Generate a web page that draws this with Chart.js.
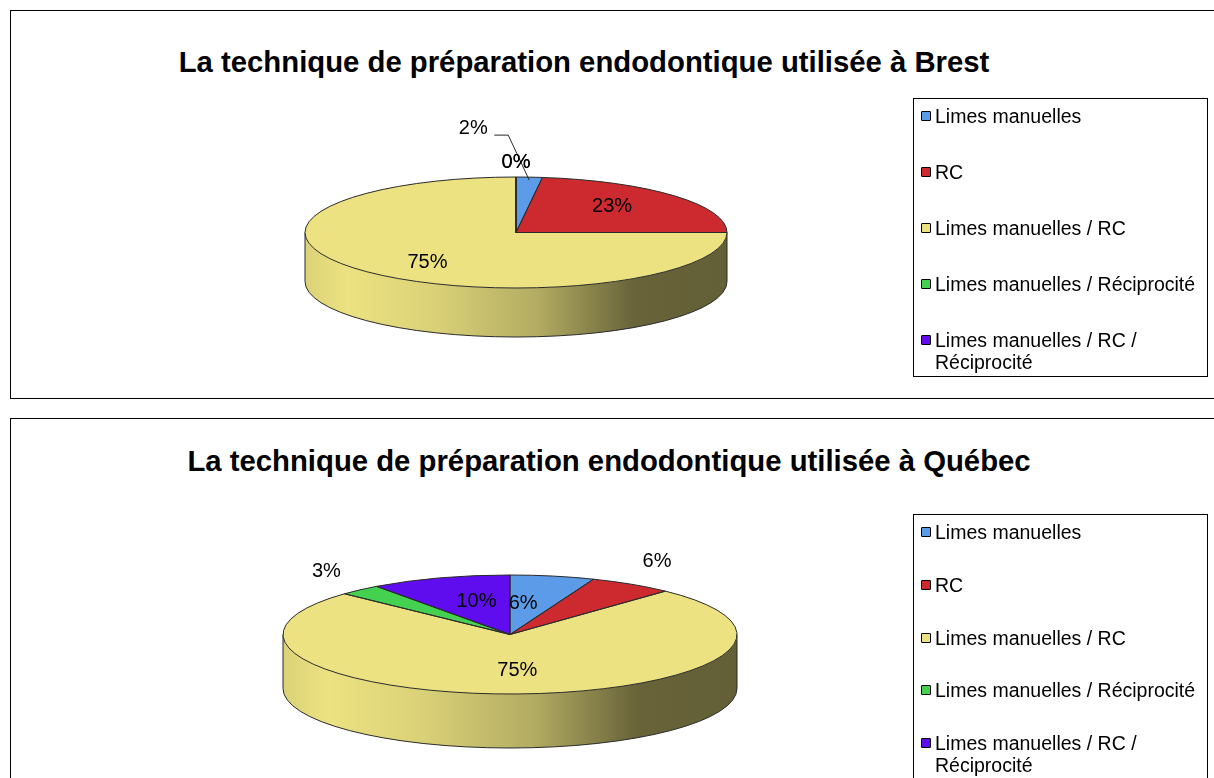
<!DOCTYPE html>
<html lang="fr">
<head>
<meta charset="utf-8">
<title>La technique de préparation endodontique</title>
<script src="https://cdn.jsdelivr.net/npm/chart.js@4.4.1/dist/chart.umd.min.js"></script>
<style>
    html, body { margin: 0; padding: 0; background: #fff; width: 1214px; height: 778px; overflow: hidden; font-family: Arial, "Liberation Sans", sans-serif; }
    .panel { position: absolute; left: 10px; width: 1220px; border: 1px solid #000; background: #fff; }
    .title { position: absolute; font-weight: bold; font-size: 29.3px; line-height: 34px; white-space: nowrap; transform: translateX(-50%); color: #000; }
    .plot { position: absolute; left: 0; top: 0; width: 1210px; }
    .legend { position: absolute; left: 902px; width: 295px; box-sizing: border-box; border: 1px solid #000; padding: 6px 6px 0 7px; font-size: 19.5px; line-height: 22px; color: #000; }
    .item { display: flex; align-items: flex-start; }
    .swatch { flex: none; width: 8px; height: 8px; border: 1.5px solid #000; border-radius: 1px; margin: 6px 4px 0 0; }
</style>
</head>
<body>

<div class="panel" id="panelBrest" style="top:10px; height:387px;">
    <div class="title" style="left:573px; top:34px;">La technique de préparation endodontique utilisée à Brest</div>
    <div class="plot" style="height:387px;"><canvas id="brestChart"></canvas></div>
    <div class="legend" id="legendBrest" style="top:87px; height:279px;"></div>
</div>

<div class="panel" id="panelQuebec" style="top:418px; height:400px;">
    <div class="title" style="left:598px; top:25px;">La technique de préparation endodontique utilisée à Québec</div>
    <div class="plot" style="height:400px;"><canvas id="quebecChart"></canvas></div>
    <div class="legend" id="legendQuebec" style="top:95px; height:320px;"></div>
</div>

<script>
const categories = ['Limes manuelles', 'RC', 'Limes manuelles / RC', 'Limes manuelles / Réciprocité', 'Limes manuelles / RC / Réciprocité'];
const brestValues = [2, 23, 75, 0, 0];
const quebecValues = [6, 6, 75, 3, 10];
const sliceColors = ['#5b9be8', '#cc2a2f', '#ece281', '#45d150', '#5f0dee'];

function shade(hex, k) {
    const n = parseInt(hex.slice(1), 16);
    const r = Math.min(255, Math.round(((n >> 16) & 255) * k));
    const g = Math.min(255, Math.round(((n >> 8) & 255) * k));
    const b = Math.min(255, Math.round((n & 255) * k));
    return `rgb(${r},${g},${b})`;
}

// fake 3D: side wall under the pie, pie squashed into an ellipse, labels on top
const pie3d = {
    id: 'pie3d',
    beforeDatasetsDraw(chart, args, opts) {
        const ctx = chart.ctx;
        const arcs = chart.getDatasetMeta(0).data;
        const cx = arcs[0].x, cy = arcs[0].y;
        const rx = chart.chartArea.width / 2, ry = arcs[0].outerRadius;
        const depth = opts.depth;
        const colors = chart.data.datasets[0].backgroundColor;

        arcs.forEach((arc, i) => {
            const a = Math.max(arc.startAngle, 0), b = Math.min(arc.endAngle, Math.PI);
            if (b <= a) return;
            const grad = ctx.createLinearGradient(cx - rx, 0, cx + rx, 0);
            [[0, 0.93], [0.1, 1], [0.3, 0.93], [0.55, 0.76], [0.78, 0.44], [1, 0.42]]
                .forEach(([p, k]) => grad.addColorStop(p, shade(colors[i], k)));
            ctx.beginPath();
            ctx.ellipse(cx, cy, rx, ry, 0, a, b);
            ctx.ellipse(cx, cy + depth, rx, ry, 0, b, a, true);
            ctx.closePath();
            ctx.fillStyle = grad;
            ctx.fill();
        });

        ctx.strokeStyle = opts.lineColor;
        ctx.lineWidth = 1;
        ctx.beginPath();
        ctx.moveTo(cx + rx, cy);
        ctx.lineTo(cx + rx, cy + depth);
        ctx.ellipse(cx, cy + depth, rx, ry, 0, 0, Math.PI);
        ctx.lineTo(cx - rx, cy);
        arcs.forEach(arc => {
            const t = arc.startAngle;
            if (t > 0 && t < Math.PI) {
                ctx.moveTo(cx + rx * Math.cos(t), cy + ry * Math.sin(t));
                ctx.lineTo(cx + rx * Math.cos(t), cy + ry * Math.sin(t) + depth);
            }
        });
        ctx.stroke();

        ctx.save();
        ctx.translate(cx, cy);
        ctx.scale(rx / ry, 1);
        ctx.translate(-cx, -cy);
    },
    afterDatasetsDraw(chart, args, opts) {
        const ctx = chart.ctx;
        ctx.restore();
        const arcs = chart.getDatasetMeta(0).data;
        const values = chart.data.datasets[0].data;
        const cx = arcs[0].x, cy = arcs[0].y;
        const rx = chart.chartArea.width / 2, ry = arcs[0].outerRadius;

        ctx.strokeStyle = opts.lineColor;
        ctx.lineWidth = 1;
        arcs.forEach(arc => {
            ctx.beginPath();
            ctx.moveTo(cx, cy);
            ctx.ellipse(cx, cy, rx, ry, 0, arc.startAngle, arc.endAngle);
            ctx.closePath();
            ctx.stroke();
        });

        ctx.font = '20px Arial, "Liberation Sans", sans-serif';
        ctx.fillStyle = '#000';
        ctx.textAlign = 'center';
        ctx.textBaseline = 'middle';
        arcs.forEach((arc, i) => {
            const place = opts.labels[i];
            const mid = (arc.startAngle + arc.endAngle) / 2;
            const ax = cx + rx * Math.cos(mid), ay = cy + ry * Math.sin(mid);
            const x = cx + rx * place.f * Math.cos(mid) + place.dx;
            const y = cy + ry * place.f * Math.sin(mid) + place.dy;
            ctx.fillText(values[i] + '%', x, y);
            if (place.leader) {
                ctx.beginPath();
                ctx.moveTo(x + 21, y + 7);
                ctx.lineTo(x + 35, y + 7);
                ctx.lineTo(ax, ay + 3);
                ctx.stroke();
            }
        });
    }
};

function makeChart(id, values, geo, labelPlacement) {
    new Chart(document.getElementById(id), {
        type: 'pie',
        data: {
            labels: categories,
            datasets: [{ data: values, backgroundColor: sliceColors, borderWidth: 0, offset: 0, hoverOffset: 0 }]
        },
        options: {
            responsive: true,
            maintainAspectRatio: false,
            animation: false,
            events: [],
            layout: {
                padding: {
                    left: geo.cx - geo.rx,
                    right: geo.w - geo.cx - geo.rx,
                    top: geo.cy - geo.ry,
                    bottom: geo.h - geo.cy - geo.ry
                }
            },
            plugins: {
                legend: { display: false },
                title: { display: false },
                tooltip: { enabled: false },
                pie3d: { depth: geo.depth, lineColor: '#2a2a2a', labels: labelPlacement }
            }
        },
        plugins: [pie3d]
    });
}

function buildLegend(id, gap) {
    const box = document.getElementById(id);
    categories.forEach((name, i) => {
        const row = document.createElement('div');
        row.className = 'item';
        row.style.marginBottom = gap + 'px';
        row.innerHTML = `<span class="swatch" style="background:${sliceColors[i]}"></span><span>${name}</span>`;
        box.appendChild(row);
    });
}

makeChart('brestChart', brestValues,
    { cx: 505, cy: 221.5, rx: 211, ry: 55.5, depth: 49, w: 1210, h: 387 },
    [
        { f: 1, dx: -56, dy: -49, leader: true },
        { f: 0.62, dx: -2, dy: -3 },
        { f: 0.62, dx: 4, dy: 6 },
        { f: 1.25, dx: 0, dy: -1 },
        { f: 1.25, dx: 0, dy: -1 }
    ]);

makeChart('quebecChart', quebecValues,
    { cx: 499, cy: 215.5, rx: 227, ry: 59.5, depth: 54, w: 1210, h: 400 },
    [
        { f: 0.45, dx: -6, dy: -5 },
        { f: 1.25, dx: -5, dy: -10 },
        { f: 0.6, dx: 3, dy: 0 },
        { f: 1.25, dx: 4, dy: -7 },
        { f: 0.55, dx: 5, dy: -2 }
    ]);

buildLegend('legendBrest', 34);
buildLegend('legendQuebec', 30.75);
</script>
</body>
</html>
